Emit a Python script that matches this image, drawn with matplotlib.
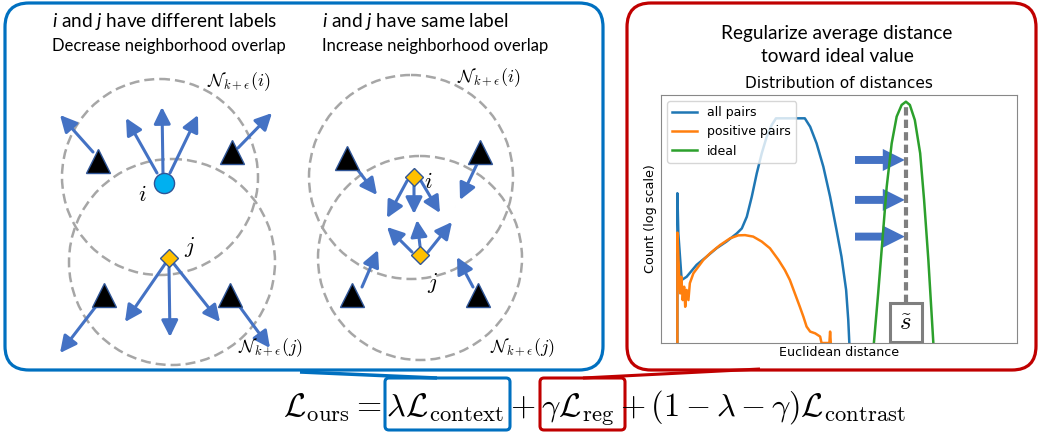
import matplotlib.pyplot as plt
from matplotlib.patches import FancyBboxPatch, Circle, FancyArrow, Rectangle

# fonts: Lato for the slide text, Computer Modern for the maths
plt.rcParams['font.family'] = ['Lato', 'DejaVu Sans']
plt.rcParams['mathtext.fontset'] = 'custom'
plt.rcParams['mathtext.rm'] = 'Lato'
plt.rcParams['mathtext.it'] = 'Lato:italic'

# ---- histogram data (x: distance in axis units, y: log count in axis units)
all_x = [4.6, 4.6, 4.87, 5.8, 7.2, 10.0, 12.8, 15.6, 18.4, 21.3, 22.7, 24.1, 25.5,
         26.9, 28.3, 29.7, 31.1, 32.3, 40.4, 41.9, 43.7, 45.6, 47.5, 49.3, 50.7,
         52.0, 52.6, 52.9]
all_y = [0, 60.4, 44.2, 25.4, 26.7, 31.5, 34.8, 38.2, 40.9, 44.2, 46.2, 50.9, 59.0,
         68.4, 76.5, 83.2, 87.9, 90.6, 90.6, 87.2, 80.5, 71.1, 59.0, 45.6, 34.8,
         21.4, 9.3, 0]

pos_x = [4.6, 4.6, 4.87, 5.15, 5.4, 5.7, 6.1, 6.5, 6.8, 7.2, 7.7, 8.1, 9.1, 10.5,
         11.9, 13.8, 16.6, 19.4, 21.7, 23.6, 25.9, 28.3, 30.6, 33.0, 34.8, 36.2,
         37.6, 39.0, 40.0, 40.9, 41.9, 43.3, 44.7, 45.1, 47.3, 47.5, 47.7]
pos_y = [0, 44.5, 34.8, 25.4, 20.0, 26.7, 17.3, 22.7, 14.6, 21.4, 17.3, 24.1, 28.1,
         30.8, 33.5, 36.2, 39.5, 42.2, 43.4, 43.5, 42.9, 40.9, 38.2, 33.5, 29.4,
         25.4, 20.0, 14.6, 10.6, 6.6, 4.6, 3.9, 2.6, 0, 0, 4.6, 0]

ideal_x = [59.8, 61.0, 62.5, 63.4, 64.8, 66.2, 67.6, 68.8, 69.9, 71.3, 72.8, 73.9,
           75.1, 76.0, 76.5]
ideal_y = [0, 20.0, 46.9, 63.0, 80.5, 91.3, 96.0, 97.3, 96.0, 89.9, 76.5, 57.7,
           33.5, 12.0, 0]
ideal_value = 68.8
push_rows = [73.8, 57.7, 42.9]

# ---- diagram positions (pixel coordinates, y down)
left_circles = [(160, 177, 98), (172, 262, 103)]
left_triangles = [(98, 161), (232, 152), (104, 295), (230, 295)]
left_i = (164, 183)
left_j = (169, 258)
left_arrows = [((157, 173), (126, 118)), ((163, 173), (162, 107)), ((170, 173), (198, 115)),
               ((93, 152), (60, 115)), ((238, 148), (272, 113)),
               ((165, 264), (125, 322)), ((169, 268), (170, 337)), ((174, 264), (220, 322)),
               ((97, 305), (60, 353)), ((237, 303), (270, 348))]

right_circles = [(411, 177, 102), (420, 258, 102)]
right_triangles = [(347, 158), (480, 152), (352, 295), (478, 295)]
right_i = (414, 177)
right_j = (420, 255)
right_arrows = [((357, 169), (377, 195)), ((477, 164), (460, 200)),
                ((362, 287), (378, 250)), ((473, 287), (457, 257)),
                ((407, 181), (387, 218)), ((414, 186), (414, 214)), ((421, 181), (440, 213)),
                ((412, 252), (387, 227)), ((420, 246), (417, 220)), ((428, 252), (452, 222))]

BLUE = '#0070C0'
RED = '#C00000'
ARROW = '#4472C4'
EDGE = '#2F5597'
DASH = '#A6A6A6'

fig = plt.figure(figsize=(10.4, 4.32), dpi=100)
ax = fig.add_axes([0, 0, 1, 1])
ax.set_xlim(0, 1040)
ax.set_ylim(432, 0)
ax.axis('off')

# panels
ax.add_patch(FancyBboxPatch((5, 3), 598, 367, boxstyle='round,pad=0,rounding_size=24',
                            fc='none', ec=BLUE, lw=2.3))
ax.add_patch(FancyBboxPatch((627, 3), 409, 367, boxstyle='round,pad=0,rounding_size=24',
                            fc='none', ec=RED, lw=2.3))

# left panel text
ax.text(52, 22, r'$i$ and $j$ have different labels', fontsize=13.7, va='center', ha='left')
ax.text(52, 46, 'Decrease neighborhood overlap', fontsize=12, va='center', ha='left')
ax.text(322, 22, r'$i$ and $j$ have same label', fontsize=13.7, va='center', ha='left')
ax.text(322, 46, 'Increase neighborhood overlap', fontsize=12, va='center', ha='left')


def draw_diagram(circles, tris, arrows, pi, pj, i_is_circle):
    for cx, cy, r in circles:
        ax.add_patch(Circle((cx, cy), r, fill=False, ec=DASH, lw=1.8, ls=(0, (4, 2))))
    for a, b in arrows:
        ax.annotate('', xy=b, xytext=a,
                    arrowprops=dict(arrowstyle='-|>,head_length=0.5,head_width=0.25',
                                    color=ARROW, lw=2.2, mutation_scale=20,
                                    shrinkA=0, shrinkB=0))
    tx = [t[0] for t in tris]
    ty = [t[1] for t in tris]
    ax.plot(tx, ty, ls='none', marker='^', ms=17, mfc='black', mec=EDGE, mew=1, zorder=5)
    if i_is_circle:
        ax.plot(*pi, marker='o', ms=14.5, mfc='#00B0F0', mec=EDGE, mew=1, zorder=5)
    else:
        ax.plot(*pi, marker='D', ms=9.5, mfc='#FFC000', mec=EDGE, mew=1, zorder=5)
    ax.plot(*pj, marker='D', ms=9.5, mfc='#FFC000', mec=EDGE, mew=1, zorder=5)


draw_diagram(left_circles, left_triangles, left_arrows, left_i, left_j, True)
draw_diagram(right_circles, right_triangles, right_arrows, right_i, right_j, False)

for x, y, s in [(142, 195, '$i$'), (190, 247, '$j$'), (428, 182, '$i$'), (433, 283, '$j$')]:
    ax.text(x, y, s, fontsize=16, ha='center', va='center', math_fontfamily='cm')
for x, y, s in [(239, 82, 'i'), (270, 348, 'j'), (489, 78, 'i'), (522, 348, 'j')]:
    ax.text(x, y, r'$\mathcal{N}_{k+\epsilon}(%s)$' % s, fontsize=13, ha='center',
            va='center', math_fontfamily='cm')

# right panel text
ax.text(837, 33, 'Regularize average distance', fontsize=13.7, ha='center', va='center')
ax.text(837, 57, 'toward ideal value', fontsize=13.7, ha='center', va='center')

# formula with boxes and connectors
ax.plot([300, 437], [372, 378], color=BLUE, lw=2.5, solid_capstyle='butt')
ax.plot([583, 760], [378, 369], color=RED, lw=2.2, solid_capstyle='butt')
ax.add_patch(FancyBboxPatch((385, 378), 125, 52, boxstyle='round,pad=0,rounding_size=4',
                            fc='white', ec=BLUE, lw=2.2))
ax.add_patch(FancyBboxPatch((540, 378), 85, 52, boxstyle='round,pad=0,rounding_size=4',
                            fc='white', ec=RED, lw=2.2))
ax.text(594, 416, r'$\mathcal{L}_{\rm ours} = \lambda\mathcal{L}_{\rm context} + '
        r'\gamma\mathcal{L}_{\rm reg} + (1 - \lambda - \gamma)\mathcal{L}_{\rm contrast}$',
        fontsize=23.3, ha='center', va='baseline', math_fontfamily='cm')

# histogram
hx = fig.add_axes([661 / 1040, 89 / 432, 356 / 1040, 248 / 432])
hx.plot(all_x, all_y, color='#1f77b4', lw=1.8, label='all pairs')
hx.plot(pos_x, pos_y, color='#ff7f0e', lw=1.8, label='positive pairs')
hx.plot(ideal_x, ideal_y, color='#2ca02c', lw=1.8, label='ideal')
hx.set_xlim(0, 100)
hx.set_ylim(0, 100)
hx.set_xticks([])
hx.set_yticks([])
for sp in hx.spines.values():
    sp.set_color('#888888')
hx.set_title('Distribution of distances', fontsize=11.1, family='DejaVu Sans', pad=5)
hx.set_xlabel('Euclidean distance', fontsize=9.1, family='DejaVu Sans', labelpad=2)
hx.set_ylabel('Count (log scale)', fontsize=9.2, family='DejaVu Sans', labelpad=3)
hx.legend(loc='upper left', prop={'family': 'DejaVu Sans', 'size': 9})

hx.plot([ideal_value, ideal_value], [16.1, 96.8], color='#7F7F7F', lw=3, ls=(0, (2, 1)))
for y in push_rows:
    hx.add_patch(FancyArrow(54.5, y, 14.0, 0, width=3.2, head_width=8.9, head_length=6.2,
                            length_includes_head=True, color=ARROW, lw=0))
hx.add_patch(Rectangle((64.3, 0.4), 9.0, 15.7, fc='white', ec='#7F7F7F', lw=2.2, zorder=4))
hx.text(ideal_value, 8.2, r'$\tilde{s}$', fontsize=18, ha='center', va='center',
        math_fontfamily='cm', zorder=5)

fig.savefig('out.png', dpi=100)
